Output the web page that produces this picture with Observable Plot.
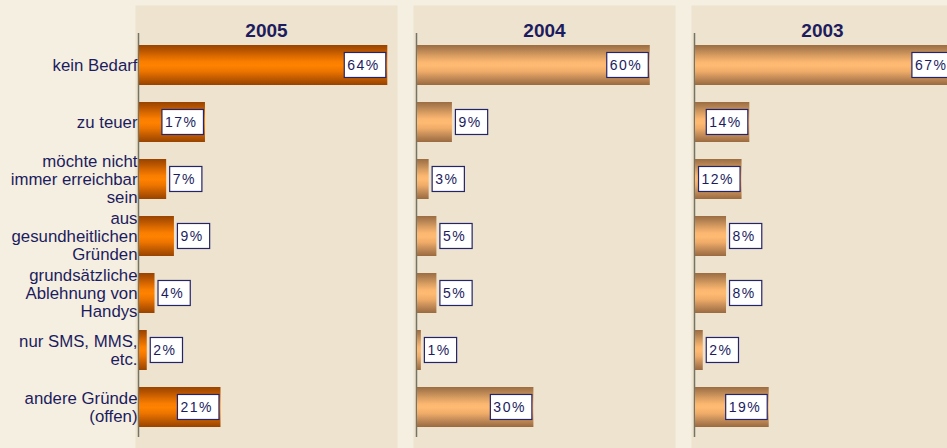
<!DOCTYPE html>
<html>
<head>
<meta charset="utf-8">
<script src="https://cdn.jsdelivr.net/npm/d3@7"></script>
<script src="https://cdn.jsdelivr.net/npm/@observablehq/plot@0.6"></script>
<style>
html, body { margin: 0; padding: 0; background: #F5EFE1; overflow: hidden; }
#chart svg { display: block; max-width: none !important; }
</style>
</head>
<body>
<div id="chart"></div>
<script>
const categories = [
  "kein Bedarf",
  "zu teuer",
  "möchte nicht\nimmer erreichbar\nsein",
  "aus\ngesundheitlichen\nGründen",
  "grundsätzliche\nAblehnung von\nHandys",
  "nur SMS, MMS,\netc.",
  "andere Gründe\n(offen)"
];
const years = ["2005", "2004", "2003"];
const values2005 = [64, 17, 7, 9, 4, 2, 21];
const values2004 = [60, 9, 3, 5, 5, 1, 30];
const values2003 = [67, 14, 12, 8, 8, 2, 19];

const seriesByYear = { "2005": values2005, "2004": values2004, "2003": values2003 };
const rows = years.flatMap(y => categories.map((c, i) => ({ year: y, cat: c, value: seriesByYear[y][i] })));

const navy = "#1C1C5E";
const textOpts = { fontSize: 14, fill: navy };

const plot = Plot.plot({
  width: 953,
  height: 448,
  marginLeft: 135,
  marginRight: 0,
  marginTop: 5,
  marginBottom: 0,
  style: { background: "transparent", fontFamily: "'Liberation Sans', Arial, sans-serif", color: navy },
  fx: { domain: years, paddingInner: 16 / 278, paddingOuter: 0, axis: null },
  x: { domain: [0, 66.5], insetLeft: 4, axis: null },
  y: { domain: categories, insetTop: 29, insetBottom: 11, paddingInner: 0.3, paddingOuter: 0.15 },
  marks: [
    Plot.frame({ fill: "#EDE3CE", stroke: null }),
    Plot.axisY({ tickSize: 0, tickPadding: 0, dx: 2, fontSize: 16.8, lineHeight: 1.07, fill: navy, label: null, tickFormat: d => d }),
    Plot.text(years, { fx: d => d, text: d => d, frameAnchor: "top", dy: 18, fontSize: 19, fontWeight: "bold", fill: navy }),
    Plot.ruleX([0], { stroke: "#737366", strokeWidth: 1.5, dx: -1, insetTop: 28, insetBottom: 11 }),
    Plot.barX(rows.filter(d => d.year === "2005"), { x: "value", y: "cat", fx: "year", fill: "url(#gradDark)" }),
    Plot.barX(rows.filter(d => d.year !== "2005"), { x: "value", y: "cat", fx: "year", fill: "url(#gradLight)" }),
    Plot.ruleX(rows.filter(d => d.year !== "2005"), { x: 0, y: "cat", fx: "year", stroke: "#8E2A12", strokeWidth: 1.5, dx: 0.75 }),
    Plot.text(rows.filter(d => d.value >= 10), { x: "value", y: "cat", fx: "year", text: d => d.value + "%", textAnchor: "end", dx: -8, ...textOpts }),
    Plot.text(rows.filter(d => d.value < 10), { x: "value", y: "cat", fx: "year", text: d => d.value + "%", textAnchor: "start", dx: 6, ...textOpts })
  ]
});

document.getElementById("chart").append(plot);

const svgSel = d3.select(plot);
const defs = svgSel.insert("defs", ":first-child");
function gradient(id, stops) {
  const g = defs.append("linearGradient").attr("id", id)
    .attr("x1", 0).attr("y1", 0).attr("x2", 0).attr("y2", 1);
  stops.forEach(([o, c]) => g.append("stop").attr("offset", o).attr("stop-color", c));
}
gradient("gradDark", [
  [0, "#984400"], [0.12, "#B45200"], [0.28, "#DC6A00"], [0.42, "#FA7E00"],
  [0.52, "#FF8200"], [0.66, "#EC7400"], [0.82, "#C45C00"], [1, "#974300"]
]);
gradient("gradLight", [
  [0, "#9C6C42"], [0.12, "#B48252"], [0.28, "#DCA062"], [0.42, "#FBB670"],
  [0.52, "#FFBA72"], [0.66, "#EFAC68"], [0.82, "#C48C58"], [1, "#9A6A40"]
]);

const svgns = "http://www.w3.org/2000/svg";
const valueTexts = svgSel.selectAll("text").filter(function () {
  return /^\d+%$/.test(this.textContent);
});
valueTexts.each(function () { this.style.letterSpacing = "1.5px"; });
valueTexts.each(function () {
  const bb = this.getBBox();
  const r = document.createElementNS(svgns, "rect");
  const cy = bb.y + bb.height / 2;
  r.setAttribute("x", bb.x - 3);
  r.setAttribute("y", cy - 12.5);
  r.setAttribute("width", bb.width + 9);
  r.setAttribute("height", 25);
  r.setAttribute("fill", "#FFFFFF");
  r.setAttribute("stroke", "#24246A");
  r.setAttribute("stroke-width", 1.2);
  const t = this.getAttribute("transform");
  if (t) r.setAttribute("transform", t);
  this.parentNode.insertBefore(r, this);
});
</script>
</body>
</html>
